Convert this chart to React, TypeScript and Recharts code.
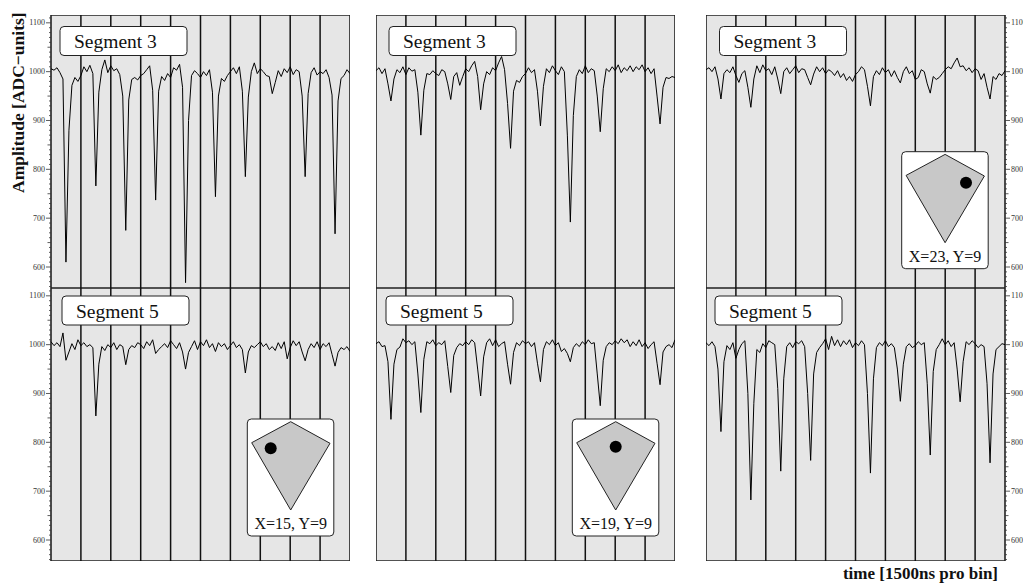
import React from "react";
import { LineChart, Line, XAxis, YAxis, CartesianGrid, ReferenceLine, ReferenceArea } from "recharts";

// amplitude per time bin (0..100)
const seg3Col15 = [
  1006, 1003, 1008, 998, 985, 610, 880, 972, 988, 980,
  992, 1010, 1000, 1013, 996, 766, 958, 1004, 1024, 998,
  1012, 1002, 1006, 994, 950, 675, 942, 984, 988, 983,
  992, 996, 1004, 1012, 962, 737, 960, 990, 982, 996,
  988, 1008, 1003, 1015, 968, 568, 900, 992, 1002, 996,
  988, 1000, 992, 1004, 958, 744, 950, 986, 980, 992,
  1000, 1008, 996, 1010, 960, 785, 948, 1000, 1018, 996,
  1006, 1000, 992, 990, 955, 978, 1002, 990, 1006, 998,
  1010, 994, 1004, 1000, 950, 785, 955, 998, 1008, 993,
  1000, 996, 1004, 988, 952, 668, 940, 986, 992, 1004,
  996,
];
const seg5Col15 = [
  1006, 998, 1004, 996, 1024, 968, 985, 1002, 990, 1010,
  998, 1004, 996, 1000, 994, 854, 960, 996, 988, 1000,
  994, 1004, 990, 1000, 996, 959, 990, 998, 994, 1004,
  1000, 992, 1006, 998, 1010, 982, 990, 996, 1002, 994,
  1008, 1000, 992, 1004, 985, 950, 984, 996, 1008, 990,
  1006, 998, 1010, 994, 1002, 986, 1004, 996, 1002, 990,
  998, 1006, 994, 1000, 990, 942, 985, 998, 994, 1000,
  1006, 996, 1002, 990, 996, 988, 1004, 992, 1006, 971,
  994, 1008, 998, 1006, 985, 967, 990, 1002, 994, 1006,
  990, 1002, 996, 1004, 980, 956, 984, 994, 990, 996,
  986,
];
const seg3Col19 = [
  1002, 1008, 996, 1006, 975, 940, 985, 1004, 998, 1010,
  994, 1008, 1001, 1004, 958, 870, 962, 996, 994, 1002,
  996, 992, 1004, 1000, 975, 943, 990, 998, 972, 990,
  1006, 1000, 1012, 1021, 990, 922, 975, 1000, 994, 1008,
  1002, 1018, 1031, 1004, 935, 843, 960, 982, 978, 990,
  996, 1008, 998, 1004, 960, 889, 970, 1006, 998, 1012,
  1002, 994, 1010, 1000, 870, 692, 910, 990, 1004, 996,
  1012, 998, 1006, 1002, 950, 877, 965, 1006, 1000, 1010,
  1002, 1014, 998, 1008, 1002, 1012, 1000, 1010, 1004, 1014,
  1000, 1008, 996, 1006, 950, 893, 968, 988, 986, 990,
  988,
];
const seg5Col19 = [
  1002, 1006, 996, 998, 965, 847, 960, 990, 995, 1012,
  1004, 1008, 1000, 1006, 940, 861, 970, 1006, 1002, 1010,
  998, 1004, 1000, 1008, 955, 902, 978, 994, 1002, 998,
  1006, 1000, 1010, 1004, 950, 895, 975, 1004, 1012, 998,
  1010, 996, 1002, 1006, 960, 919, 984, 1004, 998, 1008,
  1002, 1006, 996, 1004, 962, 924, 990, 1006, 1000, 1010,
  998, 1004, 986, 992, 982, 965, 994, 1002, 996, 1006,
  1000, 1010, 1002, 1004, 940, 875, 968, 996, 1004, 1000,
  1008, 1002, 1012, 1004, 1010, 996, 1006, 998, 1010, 996,
  1004, 992, 1000, 1006, 962, 918, 985, 996, 1000, 994,
  1010,
];
const seg3Col23 = [
  1004, 1008, 1000, 1010, 985, 944, 996, 1004, 998, 1010,
  992, 978, 996, 1002, 968, 927, 985, 1012, 998, 1014,
  1002, 1006, 994, 1010, 985, 955, 1000, 1008, 996, 1004,
  1012, 998, 1006, 1004, 988, 973, 995, 1010, 1000, 1008,
  996, 1004, 1000, 992, 1002, 988, 996, 982, 990, 980,
  994, 1000, 1010, 1004, 970, 930, 990, 1002, 994, 1008,
  998, 1004, 990, 1002, 988, 977, 1000, 1010, 996, 1002,
  984, 988, 1004, 1000, 975, 956, 990, 984, 988, 996,
  1004, 1010, 1006, 1018, 1028, 1010, 1012, 1002, 1008, 998,
  1006, 1002, 984, 996, 968, 944, 990, 984, 996, 992,
  1002,
];
const seg5Col23 = [
  1004, 998, 1006, 996, 950, 822, 965, 998, 990, 1004,
  972, 990, 1002, 1008, 900, 682, 880, 990, 984, 1002,
  994, 1008, 1004, 1000, 910, 741, 930, 996, 1004, 994,
  1006, 1002, 1008, 996, 900, 763, 940, 984, 994, 1002,
  1012, 990, 1017, 998, 1010, 996, 1008, 1000, 1010, 994,
  1004, 998, 1008, 1000, 900, 737, 930, 994, 1004, 998,
  1008, 996, 1002, 994, 950, 884, 960, 996, 1002, 994,
  998, 1006, 1000, 1004, 920, 774, 945, 990, 1000, 1012,
  1000, 1008, 996, 1004, 950, 883, 965, 1006, 1000, 1008,
  1002, 994, 1000, 996, 920, 758, 940, 990, 996, 1002,
  1000,
];

const divisions = [10, 20, 30, 40, 50, 60, 70, 80, 90];
const axisTicks = Array.from({ length: 56 }, (_, i) => 560 + i * 10);
const yDomain: [number, number] = [557, 1116];

const colLeft = [51, 376, 706];
const rowTop = [15, 288];
const plotW = 299;
const plotH = 273;

const panels = [
  { values: seg3Col15, col: 0, row: 0, label: "Segment 3", box: [60, 26.5] },
  { values: seg5Col15, col: 0, row: 1, label: "Segment 5", box: [62, 296] },
  { values: seg3Col19, col: 1, row: 0, label: "Segment 3", box: [389, 26.5] },
  { values: seg5Col19, col: 1, row: 1, label: "Segment 5", box: [386, 296] },
  { values: seg3Col23, col: 2, row: 0, label: "Segment 3", box: [719.5, 26.5] },
  { values: seg5Col23, col: 2, row: 1, label: "Segment 5", box: [715, 296] },
];

const insets = [
  { text: "X=15, Y=9", pos: [247.3, 419], dot: [23.4, 29.3] },
  { text: "X=19, Y=9", pos: [572.3, 419], dot: [43.4, 27.7] },
  { text: "X=23, Y=9", pos: [901.7, 151.7], dot: [64.3, 31] },
];

const serif = "'Liberation Serif', 'DejaVu Serif', serif";

function LeftTick(props: any) {
  const { x, y, payload } = props;
  const v = payload.value;
  const major = v % 100 === 0;
  const len = major ? 5 : v % 50 === 0 ? 3.5 : 2;
  return (
    <g>
      <line x1={x} x2={x - len} y1={y} y2={y} stroke="#333" strokeWidth={0.8} />
      {major && (
        <text x={x - len - 1} y={y + 2.6} textAnchor="end" fontSize={8} fill="#333" fontFamily={serif}>
          {v}
        </text>
      )}
    </g>
  );
}

function RightTick(props: any) {
  const { x, y, payload } = props;
  const v = payload.value;
  const major = v % 100 === 0;
  const len = major ? 5 : v % 50 === 0 ? 3.5 : 2;
  return (
    <g>
      <line x1={x} x2={x + len} y1={y} y2={y} stroke="#333" strokeWidth={0.8} />
      {major && (
        <text x={x + len + 1} y={y + 2.6} textAnchor="start" fontSize={8} fill="#333" fontFamily={serif}>
          {v}
        </text>
      )}
    </g>
  );
}

function Panel({ values, col, row }: { values: number[]; col: number; row: number }) {
  const data = values.map((amp, bin) => ({ bin, amp }));
  const leftW = col === 0 ? 45 : 0;
  const rightW = col === 2 ? 30 : 0;
  return (
    <div style={{ position: "absolute", left: colLeft[col] - leftW, top: rowTop[row] }}>
      <LineChart
        width={plotW + leftW + rightW}
        height={plotH}
        data={data}
        margin={{ top: 0, right: 0, bottom: 0, left: 0 }}
      >
        <CartesianGrid horizontal={false} vertical={false} fill="#e6e6e6" fillOpacity={1} />
        <XAxis type="number" dataKey="bin" domain={[0, 100]} hide />
        {col === 0 && (
          <YAxis
            yAxisId="a"
            orientation="left"
            width={leftW}
            domain={yDomain}
            ticks={axisTicks}
            interval={0}
            tickSize={0}
            tickMargin={0}
            axisLine={false}
            tickLine={false}
            tick={<LeftTick />}
            allowDataOverflow
          />
        )}
        {col === 2 && (
          <YAxis
            yAxisId="a"
            orientation="right"
            width={rightW}
            domain={yDomain}
            ticks={axisTicks}
            interval={0}
            tickSize={0}
            tickMargin={0}
            axisLine={false}
            tickLine={false}
            tick={<RightTick />}
            allowDataOverflow
          />
        )}
        {col === 1 && <YAxis yAxisId="a" domain={yDomain} hide allowDataOverflow />}
        {divisions.map((d) => (
          <ReferenceLine key={d} yAxisId="a" x={d} stroke="#111" strokeWidth={1.5} />
        ))}
        <Line
          yAxisId="a"
          type="linear"
          dataKey="amp"
          stroke="#000"
          strokeWidth={1}
          dot={false}
          isAnimationActive={false}
        />
        <ReferenceArea
          yAxisId="a"
          x1={0}
          x2={100}
          y1={yDomain[0]}
          y2={yDomain[1]}
          fill="none"
          stroke="#222"
          strokeWidth={1.6}
        />
      </LineChart>
    </div>
  );
}

export default function App() {
  return (
    <div
      style={{
        position: "absolute",
        left: 0,
        top: 0,
        width: 1023,
        height: 583,
        overflow: "hidden",
        background: "#fff",
      }}
    >
      {panels.map((p, i) => (
        <Panel key={i} values={p.values} col={p.col} row={p.row} />
      ))}
      <svg
        width={1023}
        height={583}
        style={{ position: "absolute", left: 0, top: 0, pointerEvents: "none" }}
      >
        {panels.map((p, i) => (
          <g key={i} transform={`translate(${p.box[0]},${p.box[1]})`}>
            <rect width={127} height={29} rx={4} fill="#fff" stroke="#222" strokeWidth={1} />
            <text x={14} y={21.8} fontSize={19.5} fontFamily={serif} fill="#111">
              {p.label}
            </text>
          </g>
        ))}
        {insets.map((s, i) => (
          <g key={i} transform={`translate(${s.pos[0]},${s.pos[1]})`}>
            <rect width={86.5} height={117} rx={4} fill="#fff" stroke="#222" strokeWidth={1} />
            <polygon
              points="43.4,2.7 82.7,24.3 43.4,91 4.4,23.7"
              fill="#c8c8c8"
              stroke="#222"
              strokeWidth={1}
            />
            <circle cx={s.dot[0]} cy={s.dot[1]} r={6} fill="#000" />
            <text x={43.4} y={110.3} textAnchor="middle" fontSize={16} fontFamily={serif} fill="#111">
              {s.text}
            </text>
          </g>
        ))}
        <text
          transform="translate(24,193) rotate(-90)"
          fontSize={17.5}
          fontWeight="bold"
          fontFamily={serif}
          fill="#111"
        >
          Amplitude [ADC−units]
        </text>
        <text x={998} y={579} textAnchor="end" fontSize={17} fontWeight="bold" fontFamily={serif} fill="#111">
          time [1500ns pro bin]
        </text>
      </svg>
    </div>
  );
}
